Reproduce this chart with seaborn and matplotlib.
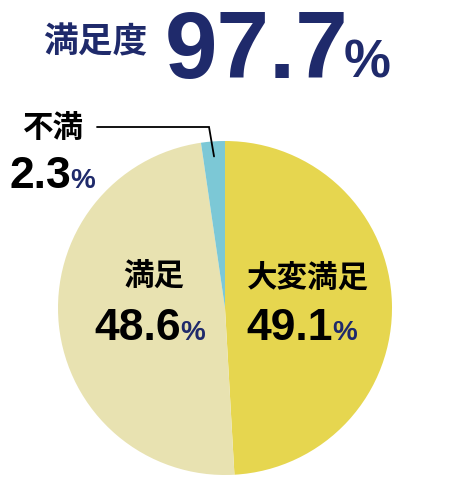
import matplotlib
matplotlib.use("Agg")
import matplotlib.pyplot as plt
import seaborn as sns
import numpy as np

# ---- data ----
categories = ["大変満足", "満足", "不満"]
values = [49.1, 48.6, 2.3]
slice_colors = ["#E6D64F", "#E8E2B1", "#7CC8D6"]
title_label = "満足度"
title_value = 97.7

sns.set_theme(style="white")
plt.rcParams["font.family"] = ["Noto Sans CJK JP", "DejaVu Sans"]

W, H = 450, 480
fig = plt.figure(figsize=(W / 100, H / 100), dpi=100)
fig.patch.set_facecolor("white")

cx, cy, R = 225, 308, 167
ax = fig.add_axes([(cx - R) / W, 1 - (cy + R) / H, 2 * R / W, 2 * R / H])
ax.set_aspect("equal")
palette = sns.color_palette(slice_colors)
wedges, _ = ax.pie(values, colors=palette, startangle=90, counterclock=False,
                   radius=1.0, wedgeprops=dict(linewidth=0))
ax.set_xlim(-1, 1)
ax.set_ylim(-1, 1)
ax.axis("off")

NAVY = "#1F2A6B"
NUM = ["Liberation Sans"]
PCT = ["Liberation Sans"]
CJK = "Noto Sans CJK JP"

def fx(x):
    return x / W

def fy(y):
    return 1 - y / H

# title
fig.text(fx(95), fy(42), title_label, ha="center", va="center", fontsize=25,
         fontweight="bold", family=CJK, color=NAVY)
fig.text(fx(348), fy(78), f"{title_value:.1f}", ha="right", va="baseline", fontsize=68,
         fontweight="bold", family=NUM, color=NAVY)
fig.text(fx(344), fy(78), "%", ha="left", va="baseline", fontsize=38,
         fontweight="bold", family=PCT, color=NAVY)

# slice labels
label_pos = {
    "大変満足": dict(cjk=(308, 278), num_right=333, base=340, size=32),
    "満足": dict(cjk=(154, 277), num_right=181, base=340, size=32),
    "不満": dict(cjk=(53, 128), num_right=71, base=188, size=32),
}
for cat, val in zip(categories, values):
    p = label_pos[cat]
    fig.text(fx(p["cjk"][0]), fy(p["cjk"][1]), cat, ha="center", va="center",
             fontsize=22, fontweight="bold", family=CJK, color="black")
    fig.text(fx(p["num_right"]), fy(p["base"]), f"{val:.1f}", ha="right", va="baseline",
             fontsize=p["size"], fontweight="bold", family=NUM, color="black")
    fig.text(fx(p["num_right"] - 1), fy(p["base"]), "%", ha="left", va="baseline",
             fontsize=20, fontweight="bold", family=PCT, color=NAVY)

# leader line for small slice
w = wedges[2]
mid = np.deg2rad((w.theta1 + w.theta2) / 2)
ex, ey = 0.91 * np.cos(mid), 0.91 * np.sin(mid)
ly = (cy - 127) / R
lx0 = (97 - cx) / R
ax.plot([lx0, ex - 0.03, ex], [ly, ly, ey], color="black", lw=1.3, clip_on=False,
        solid_joinstyle="miter")

fig.savefig("out.png", dpi=100, facecolor="white")
